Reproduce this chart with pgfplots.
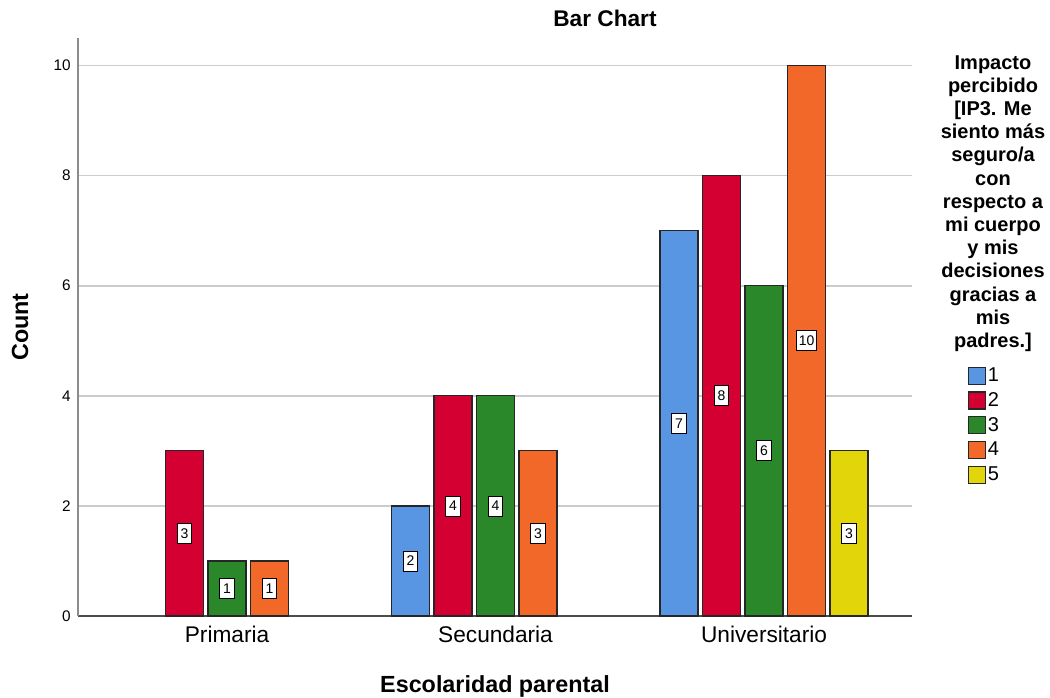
\documentclass[border=0pt]{standalone}
\usepackage{pgfplots}
\pgfplotsset{compat=1.18}
\usepackage{fontspec}
\setmainfont{Liberation Sans}

\definecolor{c1}{RGB}{88,150,228}
\definecolor{c2}{RGB}{213,0,50}
\definecolor{c3}{RGB}{42,135,42}
\definecolor{c4}{RGB}{241,104,40}
\definecolor{c5}{RGB}{226,214,10}

\begin{document}
\begin{tikzpicture}
\begin{axis}[
    at={(0,0)}, anchor=south west,
    scale only axis, width=625.5pt, height=433.5pt,
    xmin=-0.555, xmax=2.551, ymin=0, ymax=10.5,
    ybar, bar width=0.1415,
    axis x line*=bottom, axis y line*=left,
    x axis line style={-, draw=black!70, line width=0.8pt},
    y axis line style={-, draw=black!45, line width=1pt},
    xtick={0,1,2}, xticklabels={Primaria,Secundaria,Universitario},
    ytick={0,2,...,10},
    major tick length=0pt,
    ymajorgrids, grid style={draw=black!20, line width=1.2pt},
    /pgf/number format/assume math mode=true,
    yticklabel style={font=\fontsize{11.5}{13}\selectfont, xshift=-2pt},
    xticklabel style={font=\fontsize{17}{20}\selectfont, yshift=-4pt},
    xlabel={Escolaridad parental}, ylabel={Count},
    label style={font=\bfseries\fontsize{17.5}{20}\selectfont},
    xlabel style={at={(axis description cs:0.5,0)}, anchor=center, yshift=-52.5pt},
    ylabel style={at={(axis description cs:-0.0695,0.5)}, anchor=center},
    every axis plot/.append style={draw=black!85, line width=0.9pt},
    visualization depends on=y \as \rawy,
    nodes near coords,
    every node near coord/.append style={anchor=center,
        shift={(axis direction cs:0,-\rawy/2)},
        draw=black, fill=white, text=black, line width=0.6pt,
        inner sep=1.5pt, minimum height=15pt, minimum width=11pt,
        font=\fontsize{10.5}{12}\selectfont},
    legend style={at={(axis description cs:1.067,0.432)}, anchor=north west,
        draw=none, fill=none, inner sep=0pt, row sep=4.9pt,
        font=\fontsize{15}{17}\selectfont,
        nodes={inner xsep=1pt, inner ysep=0pt}},
    legend cell align=left,
    legend image code/.code={\draw[#1, line width=0.9pt, draw=black!85]
        (0pt,-6.4pt) rectangle (12.8pt,6.4pt);},
]
\addplot[fill=c1, bar shift=-0.3166] coordinates {(1,2) (2,7)};
\addplot[fill=c2, bar shift=-0.1583] coordinates {(0,3) (1,4) (2,8)};
\addplot[fill=c3, bar shift=0] coordinates {(0,1) (1,4) (2,6)};
\addplot[fill=c4, bar shift=0.1583] coordinates {(0,1) (1,3) (2,10)};
\addplot[fill=c5, bar shift=0.3166] coordinates {(2,3)};
\legend{1,2,3,4,5}
\end{axis}
% chart title
\node[font=\bfseries\fontsize{17}{20}\selectfont] at (395.25pt,448.5pt) {Bar Chart};
% legend title
\node[anchor=north, align=center, inner sep=0pt,
      font=\bfseries\fontsize{15}{17.4}\selectfont] at (686.25pt,420.75pt)
  {Impacto\\percibido\\{[}IP3. Me\\siento más\\seguro/a\\con\\respecto a\\mi cuerpo\\y mis\\decisiones\\gracias a\\mis\\padres.{]}};
\pgfresetboundingbox
\path[use as bounding box] (-58.5pt,-60.75pt) rectangle (729pt,462pt);
\end{tikzpicture}
\end{document}
